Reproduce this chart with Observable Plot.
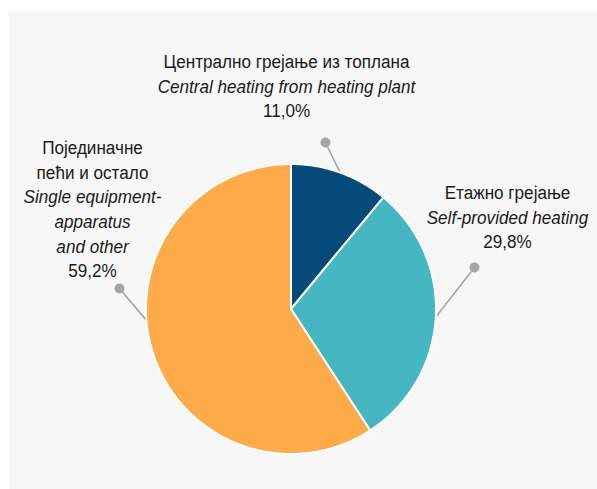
<!DOCTYPE html>
<html>
<head>
<meta charset="utf-8">
<script src="https://cdn.jsdelivr.net/npm/d3@7"></script>
<script src="https://cdn.jsdelivr.net/npm/@observablehq/plot@0.6"></script>
<style>
  html, body { margin: 0; padding: 0; background: #ffffff; }
  #chart { width: 597px; height: 489px; }
</style>
</head>
<body>
<div id="chart"></div>
<script>
// ---- data ----
const categories = ["central", "self", "single"];
const values = [11.0, 29.8, 59.2];
const labelsSr = [
  ["Централно грејање из топлана"],
  ["Етажно грејање"],
  ["Појединачне", "пећи и остало"]
];
const labelsEn = [
  ["Central heating from heating plant"],
  ["Self-provided heating"],
  ["Single equipment-", "apparatus", "and other"]
];
const percentLabels = ["11,0%", "29,8%", "59,2%"];

// ---- styles / layout (not data) ----
const colors = ["#054a79", "#46b6c2", "#ffab4a"];
const W = 597, H = 489;
const panel = {left: 8, top: 10};
const cx = 290.5, cy = 308.5, R = 145;         // pie centre and radius in px
// label layout in radius units (x right, y up): first line centre
const labelPos = [
  {x: (286 - cx) / R, y: (cy - 62) / R},
  {x: (507 - cx) / R, y: (cy - 193) / R},
  {x: (92 - cx) / R,  y: (cy - 148) / R}
];
// leader dot positions and connection angles (degrees clockwise from top)
const dotPos = [
  {x: (325 - cx) / R, y: (cy - 142) / R},
  {x: (474 - cx) / R, y: (cy - 267) / R},
  {x: (119 - cx) / R, y: (cy - 288) / R}
];
const connectAngle = [19.8, 93.2, 265.5];
const lineStep = 24.6;   // px between text lines
const fontSize = 18;
const condense = 0.95;   // slight horizontal squeeze to mimic a narrow face

// ---- build slices ----
const total = d3.sum(values);
const slices = [];
let acc = 0;
values.forEach((v, i) => {
  const a0 = acc / total * 2 * Math.PI;
  acc += v;
  const a1 = acc / total * 2 * Math.PI;
  const n = Math.max(2, Math.ceil((a1 - a0) / (Math.PI / 360)));
  slices.push({cat: categories[i], x: 0, y: 0});
  for (let k = 0; k <= n; k++) {
    const a = a0 + (a1 - a0) * k / n;
    slices.push({cat: categories[i], x: Math.sin(a), y: Math.cos(a)});
  }
  slices.push({cat: categories[i], x: 0, y: 0});
});

// ---- text lines ----
const lines = [];
categories.forEach((c, i) => {
  let idx = 0;
  labelsSr[i].forEach(t => lines.push({cat: c, text: t, italic: false, idx: idx++, ...labelPos[i]}));
  labelsEn[i].forEach(t => lines.push({cat: c, text: t, italic: true, idx: idx++, ...labelPos[i]}));
  lines.push({cat: c, text: percentLabels[i], italic: false, idx: idx++, ...labelPos[i]});
});
lines.forEach(l => { l.dy = l.idx * lineStep; });

const leaders = categories.map((c, i) => {
  const a = connectAngle[i] * Math.PI / 180;
  return {cat: c, x1: Math.sin(a), y1: Math.cos(a), x2: dotPos[i].x, y2: dotPos[i].y};
});

const xDomain = [(panel.left - cx) / R, (W - cx) / R];
const yDomain = [(cy - H) / R, (cy - panel.top) / R];

const textMarks = [];
const dys = [...new Set(lines.map(l => l.dy))];
for (const dy of dys) {
  for (const it of [false, true]) {
    const sub = lines.filter(l => l.dy === dy && l.italic === it);
    if (!sub.length) continue;
    textMarks.push(Plot.text(sub, {
      x: "x", y: "y", text: "text", dy: dy,
      fill: "#1a1a1a", fontSize: fontSize,
      fontStyle: it ? "italic" : "normal",
      fontFamily: "'Liberation Sans', Arial, sans-serif",
      textAnchor: "middle",
      className: "lbl"
    }));
  }
}

const chart = Plot.plot({
  width: W,
  height: H,
  marginLeft: panel.left,
  marginTop: panel.top,
  marginRight: 0,
  marginBottom: 0,
  style: {background: "transparent", overflow: "visible"},
  x: {domain: xDomain, axis: null},
  y: {domain: yDomain, axis: null},
  color: {domain: categories, range: colors},
  marks: [
    Plot.frame({fill: "#f7f7f7", stroke: null}),
    Plot.link(leaders, {x1: "x1", y1: "y1", x2: "x2", y2: "y2", stroke: "#a6a6a6", strokeWidth: 1.6}),
    Plot.line(slices, {x: "x", y: "y", z: "cat", fill: "cat", stroke: "white", strokeWidth: 2, strokeLinejoin: "round", curve: "linear"}),
    Plot.dot(dotPos, {x: "x", y: "y", r: 5, fill: "#a6a6a6", stroke: null}),
    ...textMarks
  ]
});
document.getElementById("chart").appendChild(chart);

// squeeze label text horizontally (narrow-face look)
chart.querySelectorAll("g.lbl text").forEach(t => {
  const w = t.getComputedTextLength();
  if (w > 0) {
    t.setAttribute("textLength", (w * condense).toFixed(2));
    t.setAttribute("lengthAdjust", "spacingAndGlyphs");
  }
});
</script>
</body>
</html>
